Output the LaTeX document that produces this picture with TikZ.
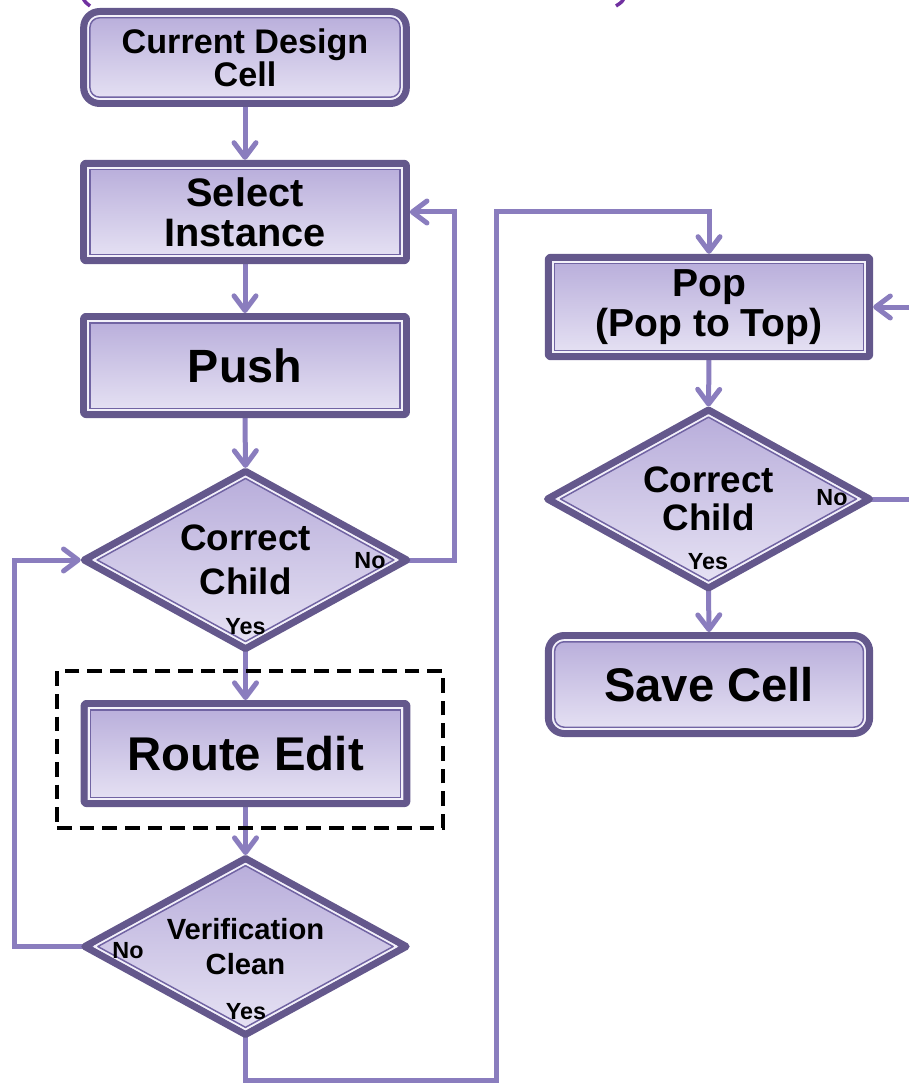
\documentclass[tikz,border=0pt]{standalone}
\usepackage{fontspec}
\setmainfont{Liberation Sans}
\usetikzlibrary{shapes.geometric,arrows.meta,backgrounds}
\definecolor{bdark}{HTML}{64588C}
\definecolor{binner}{HTML}{7164A3}
\definecolor{blight}{HTML}{F3F1FA}
\definecolor{ftop}{HTML}{B7ACDA}
\definecolor{fbot}{HTML}{E7E3F4}
\definecolor{conn}{HTML}{8A7DBE}
\definecolor{paren}{HTML}{7030A0}
\tikzset{
  boxbase/.style={draw=bdark, line width=5.25pt, top color=ftop, bottom color=fbot,
    outer sep=0pt, inner sep=0pt, align=center, line join=round, text=black},
  sqbox/.style={boxbase, rectangle, rounded corners=1.5pt, minimum width=242pt},
  rdbox/.style={boxbase, rectangle, rounded corners=12pt, minimum width=242pt},
  decision/.style={boxbase, diamond, aspect=1.8},
  yn/.style={inner sep=0pt, outer sep=0pt, font=\bfseries\fontsize{17.5pt}{20pt}\selectfont},
  flow/.style={draw=conn, line width=3.75pt},
  arr/.style={flow, -{Straight Barb[length=11pt,width=16.5pt,round]}, shorten >=2.6pt},
  dashbox/.style={draw=black, line width=2.4pt, dash pattern=on 11pt off 6pt, inner sep=0pt, outer sep=0pt}
}
\begin{document}
\begin{tikzpicture}[x=0.75pt,y=-0.75pt]
\useasboundingbox (0,0) rectangle (909,1084);
\clip (0,0) rectangle (909,1084);

% cut-off title brackets
\draw[paren, line width=2.6pt] (83,-2) .. controls (85,2) .. (90,6);
\draw[paren, line width=2.6pt] (624,-2) .. controls (622,2) .. (616,6);

% left column
\node[rdbox, minimum height=69pt, font=\bfseries\fontsize{25.6pt}{23.5pt}\selectfont]
  (cdc) at (245,57.5) {Current Design\\Cell};
\node[sqbox, minimum height=73pt, font=\bfseries\fontsize{29.8pt}{30pt}\selectfont]
  (sel) at (245,212) {Select\\Instance};
\node[sqbox, minimum height=73.5pt, font=\bfseries\fontsize{35pt}{36pt}\selectfont]
  (push) at (245,365.5) {Push};
\node[decision, minimum width=242pt, minimum height=133pt, font=\bfseries\fontsize{27.6pt}{33pt}\selectfont]
  (cc1) at (245.5,560) {Correct\\Child};
\node[sqbox, minimum height=75pt, font=\bfseries\fontsize{35.5pt}{36pt}\selectfont]
  (route) at (245.5,753.5) {Route Edit};
\node[decision, minimum width=241pt, minimum height=132pt, font=\bfseries\fontsize{21.9pt}{26.5pt}\selectfont]
  (ver) at (245.5,946.5) {Verification\\Clean};
\node[dashbox, minimum width=289.5pt, minimum height=117.75pt] (dash) at (250,749.5) {};

% right column
\node[sqbox, minimum width=241pt, minimum height=74.5pt, font=\bfseries\fontsize{29.3pt}{30pt}\selectfont]
  (pop) at (709,307) {Pop\\(Pop to Top)};
\node[decision, minimum width=241.5pt, minimum height=133.5pt, font=\bfseries\fontsize{27.6pt}{28.5pt}\selectfont]
  (cc2) at (708.5,499) {Correct\\Child};
\node[rdbox, minimum width=241pt, minimum height=73.5pt, font=\bfseries\fontsize{35.4pt}{36pt}\selectfont]
  (save) at (709,684.5) {Save Cell};

% inner frames
\foreach \n in {sel,push,route,pop}{
  \draw[blight, line width=1.4pt] ([shift={(3.5pt,-3.5pt)}]\n.north west) rectangle ([shift={(-3.5pt,3.5pt)}]\n.south east);
  \draw[binner, line width=1.1pt] ([shift={(4.7pt,-4.7pt)}]\n.north west) rectangle ([shift={(-4.7pt,4.7pt)}]\n.south east);
}
\foreach \n in {cdc,save}{
  \draw[blight, line width=1.4pt, rounded corners=8.5pt] ([shift={(3.5pt,-3.5pt)}]\n.north west) rectangle ([shift={(-3.5pt,3.5pt)}]\n.south east);
  \draw[binner, line width=1.1pt, rounded corners=7.3pt] ([shift={(4.7pt,-4.7pt)}]\n.north west) rectangle ([shift={(-4.7pt,4.7pt)}]\n.south east);
}
\foreach \n in {cc1,cc2,ver}{
  \draw[blight, line width=1.4pt, line join=round] ([yshift=-4pt]\n.north) -- ([xshift=-7.27pt]\n.east) -- ([yshift=4pt]\n.south) -- ([xshift=7.27pt]\n.west) -- cycle;
  \draw[binner, line width=1.1pt, line join=round] ([yshift=-5.36pt]\n.north) -- ([xshift=-9.76pt]\n.east) -- ([yshift=5.36pt]\n.south) -- ([xshift=9.76pt]\n.west) -- cycle;
}

% yes / no labels
\node[yn] (cc1no) at (370,561) {No};
\node[yn] (cc1yes) at (245.5,627) {Yes};
\node[yn] (vno) at (128,951) {No};
\node[yn] (vyes) at (246,1012) {Yes};
\node[yn] (cc2no) at (832,498) {No};
\node[yn] (cc2yes) at (708,562) {Yes};

% helper coordinates
\coordinate (lx) at (14,0);
\coordinate (rx) at (454,0);
\coordinate (bot) at (496,1080);
\coordinate (top) at (496,212);
\coordinate (ex) at (930,0);

% connectors
\begin{scope}[on background layer]
\draw[arr] (cdc.south) -- (sel.north);
\draw[arr] (sel.south) -- (push.north);
\draw[arr] (push.south) -- (cc1.north);
\draw[arr] (cc1.south) -- (route.north);
\draw[arr] (route.south) -- (ver.north);
\draw[arr] (ver.west) -- (ver.west -| lx) -- (cc1.west -| lx) -- (cc1.west);
\draw[arr] (cc1.east) -- (cc1.east -| rx) -- (sel.east -| rx) -- (sel.east);
\draw[arr] (ver.south) -- (ver.south |- bot) -- (bot) -- (top) -- (top -| pop.north) -- (pop.north);
\draw[arr] (pop.south) -- (cc2.north);
\draw[arr] (cc2.south) -- (save.north);
\draw[arr] (cc2.east) -- (cc2.east -| ex) -- (pop.east -| ex) -- (pop.east);
\end{scope}
\end{tikzpicture}
\end{document}
